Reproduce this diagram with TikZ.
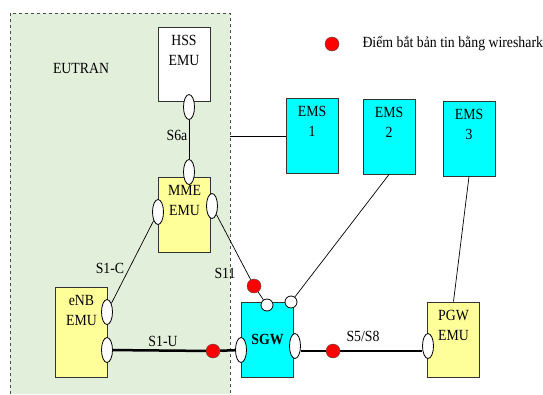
\documentclass[tikz,border=0pt]{standalone}
\usepackage{fontspec}
\setmainfont[FakeStretch=0.89]{Liberation Serif}
\usetikzlibrary{shapes.geometric}
\definecolor{eutrangreen}{RGB}{226,239,218}
\definecolor{emuyellow}{RGB}{255,255,153}
\definecolor{emscyan}{RGB}{0,255,255}

\begin{document}
\begin{tikzpicture}[x=1pt,y=-1pt,
every node/.style={font=\fontsize{15.5}{20}\selectfont},
box/.style={draw=black!80,line width=1pt,minimum width=52pt,minimum height=75pt,inner sep=0pt},
port/.style={ellipse,draw,fill=white,line width=0.8pt,minimum width=11pt,minimum height=25pt,inner sep=0pt},
hole/.style={circle,draw,fill=white,line width=0.8pt,minimum size=12pt,inner sep=0pt},
tap/.style={circle,draw=black!70,fill=red,minimum size=14pt,inner sep=0pt},
boxtext/.style={anchor=north,align=center,yshift=-5pt}]
\useasboundingbox (0,0) rectangle (543,394);
% EUTRAN area
\fill[eutrangreen] (10,13) rectangle (230,394);
\draw[dashed,black!70,line width=0.8pt] (10,394)--(10,13)--(230,13)--(230,394);
\node (eutran) at (81,68) {EUTRAN};
% boxes
\node[box,fill=white,minimum height=74pt,label={[boxtext]north:HSS\\EMU}] (hss) at (184,64) {};
\node[box,fill=emuyellow,label={[boxtext]north:MME\\EMU}] (mme) at (184.5,214.5) {};
\node[box,fill=emuyellow,minimum height=90pt,label={[boxtext]north:eNB\\EMU}] (enb) at (81.5,332) {};
\node[box,fill=emscyan] (sgw) at (267.5,339.5) {\textbf{SGW}};
\node[box,fill=emuyellow,label={[boxtext]north:PGW\\EMU}] (pgw) at (453.5,339.5) {};
\node[box,fill=emscyan,label={[boxtext]north:EMS\\1}] (ems1) at (312,135.5) {};
\node[box,fill=emscyan,label={[boxtext]north:EMS\\2}] (ems2) at (389,136.5) {};
\node[box,fill=emscyan,label={[boxtext]north:EMS\\3}] (ems3) at (469,138.5) {};
% ports
\node[port] (hssP) at (189,107) {};
\node[port] (mmeT) at (189,172) {};
\node[port] (mmeL) at (158,212) {};
\node[port] (mmeR) at (212,206) {};
\node[port] (enbA) at (107,312) {};
\node[port] (enbB) at (107,350) {};
\node[port] (sgwL) at (241,350) {};
\node[port] (sgwR) at (295,346) {};
\node[port] (pgwL) at (428,346) {};
\node[hole] (sgwT1) at (267,305) {};
\node[hole] (sgwT2) at (291,302) {};
% capture points
\node[tap] (tap11) at (254,286) {};
\node[tap] (tap1u) at (213,351) {};
\node[tap] (tap58) at (333,351) {};
\node[tap] (tapkey) at (332,44) {};
\node[anchor=west] (key) at (359,44) {Điểm bắt bản tin bằng wireshark};
\coordinate (s6tap) at (230,136);
% links
\draw[line width=0.7pt] (hssP)--(mmeT);
\draw[line width=0.7pt] (s6tap)--(ems1.west |- s6tap);
\draw[line width=0.7pt] (mmeL)--(enbA);
\draw[line width=0.7pt] (mmeR)--(tap11)--(sgwT1);
\draw[line width=0.7pt] (ems2.south)--(sgwT2);
\draw[line width=0.7pt] (ems3.south)--(pgw.north);
\draw[line width=2.5pt] (enbB)--(tap1u)--(sgwL);
\draw[line width=2.5pt] (sgwR.east |- tap58)--(tap58)--(pgwL.west |- tap58);
% labels
\node (s6a) at (177,135) {S6a};
\node (s1c) at (110,268) {S1-C};
\node (s11) at (225,273) {S11};
\node (s1u) at (163,341) {S1-U};
\node (s58) at (363,336) {S5/S8};
\end{tikzpicture}
\end{document}
